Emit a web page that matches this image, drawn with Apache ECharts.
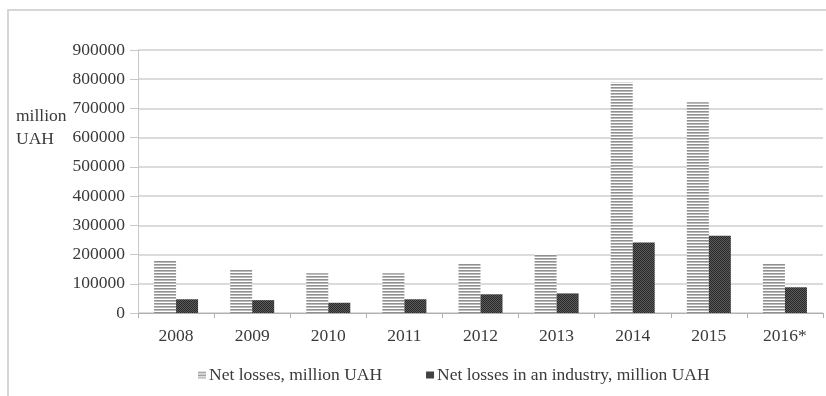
<!DOCTYPE html>
<html>
<head>
<meta charset="utf-8">
<style>
  html, body { margin: 0; padding: 0; background: #fff; }
  #chart { width: 826px; height: 396px; }
</style>
<script src="https://cdn.jsdelivr.net/npm/echarts@6/dist/echarts.min.js"></script>
</head>
<body>
<div id="chart"></div>
<script>
// Annual net losses, million UAH
const years = ['2008', '2009', '2010', '2011', '2012', '2013', '2014', '2015', '2016*'];
const netLosses = [181000, 147000, 136000, 136000, 168000, 202000, 789000, 721000, 170000];
const industryLosses = [47000, 44000, 35000, 47000, 64000, 67000, 241000, 264000, 88000];
const seriesNames = ['Net losses, million UAH', 'Net losses in an industry, million UAH'];
const yTicks = { min: 0, max: 900000, interval: 100000 };

const FONT = 'Liberation Serif';
const FONT_SIZE = 17.5;
const TEXT = '#3a3a3a';

// Horizontal hatch fill for the total losses bars
function stripePattern() {
  const c = document.createElement('canvas');
  c.width = 4; c.height = 3;
  const g = c.getContext('2d');
  g.fillStyle = '#ffffff'; g.fillRect(0, 0, 4, 3);
  g.fillStyle = '#909090'; g.fillRect(0, 0, 4, 1);
  g.fillStyle = '#bababa'; g.fillRect(0, 1, 4, 1);
  return c;
}
// Fine dark checker fill for the industry bars
function checkerPattern() {
  const c = document.createElement('canvas');
  c.width = 2; c.height = 2;
  const g = c.getContext('2d');
  g.fillStyle = '#5c5c5c'; g.fillRect(0, 0, 2, 2);
  g.fillStyle = '#282828'; g.fillRect(0, 0, 1, 1); g.fillRect(1, 1, 1, 1);
  return c;
}
const stripeFill = { image: stripePattern(), repeat: 'repeat' };
const checkerFill = { image: checkerPattern(), repeat: 'repeat' };

const chart = echarts.init(document.getElementById('chart'), null, { renderer: 'canvas' });
chart.setOption({
  animation: false,
  backgroundColor: '#ffffff',
  textStyle: { fontFamily: FONT },
  graphic: [
    // outer frame (top and left edges visible)
    { type: 'polyline', shape: { points: [[8, 400], [8, 10], [830, 10]] },
      style: { stroke: '#d6d6d6', lineWidth: 2, fill: null }, silent: true },
    { type: 'text', left: 16, top: 105,
      style: { text: 'million\nUAH', font: FONT_SIZE + 'px "Liberation Serif"', fill: TEXT, lineHeight: 23 } }
  ],
  grid: { left: 138, right: 3, top: 50, bottom: 83, containLabel: false },
  legend: {
    left: 193, top: 361,
    itemWidth: 8, itemHeight: 7, itemGap: 44,
    icon: 'rect',
    textStyle: { fontFamily: FONT, fontSize: FONT_SIZE, color: TEXT, padding: [0, 0, 0, -2] },
    data: [
      { name: seriesNames[0], itemStyle: { color: stripeFill } },
      { name: seriesNames[1], itemStyle: { color: checkerFill } }
    ]
  },
  xAxis: {
    type: 'category',
    data: years,
    axisLine: { lineStyle: { color: '#b0b0b0', width: 1 } },
    axisTick: { show: true, length: 5, alignWithLabel: false, lineStyle: { color: '#b0b0b0' } },
    axisLabel: { fontFamily: FONT, fontSize: FONT_SIZE, color: TEXT, margin: 14 }
  },
  yAxis: {
    type: 'value',
    min: yTicks.min, max: yTicks.max, interval: yTicks.interval,
    axisLine: { show: true, lineStyle: { color: '#c8c8c8' } },
    axisTick: { show: true, length: 8, lineStyle: { color: '#c8c8c8' } },
    axisLabel: { fontFamily: FONT, fontSize: FONT_SIZE, color: TEXT, margin: 13,
      formatter: v => String(v) },
    splitLine: { lineStyle: { color: '#cfcfcf', width: 1.5 } }
  },
  series: [
    { name: seriesNames[0], type: 'bar', data: netLosses, barWidth: 22, barGap: '0%',
      itemStyle: { color: stripeFill } },
    { name: seriesNames[1], type: 'bar', data: industryLosses, barWidth: 22, barGap: '0%',
      itemStyle: { color: checkerFill } }
  ]
});
</script>
</body>
</html>
